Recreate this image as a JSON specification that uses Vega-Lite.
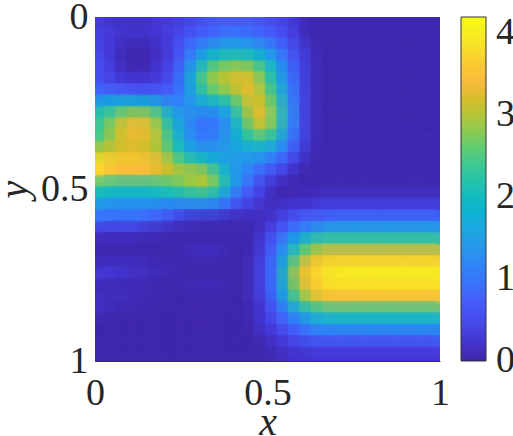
{"$schema":"https://vega.github.io/schema/vega-lite/v6.json","width":345,"height":344,"padding":{"left":95,"top":17,"right":73,"bottom":75},"autosize":"none","background":"white","config":{"view":{"stroke":null},"font":"Liberation Serif"},
"data":{"values":[
{"x":0.017,"y":0.017,"v":0.3},{"x":0.05,"y":0.017,"v":0.2},{"x":0.083,"y":0.017,"v":0.2},{"x":0.117,"y":0.017,"v":0.2},{"x":0.15,"y":0.017,"v":0.2},{"x":0.183,"y":0.017,"v":0.3},{"x":0.217,"y":0.017,"v":0.3},{"x":0.25,"y":0.017,"v":0.4},{"x":0.283,"y":0.017,"v":0.5},{"x":0.317,"y":0.017,"v":0.6},{"x":0.35,"y":0.017,"v":0.7},{"x":0.383,"y":0.017,"v":0.7},{"x":0.417,"y":0.017,"v":0.7},{"x":0.45,"y":0.017,"v":0.7},{"x":0.483,"y":0.017,"v":0.6},{"x":0.517,"y":0.017,"v":0.5},{"x":0.55,"y":0.017,"v":0.4},{"x":0.583,"y":0.017,"v":0.2},{"x":0.617,"y":0.017,"v":0.04},{"x":0.65,"y":0.017,"v":0.04},{"x":0.683,"y":0.017,"v":0.04},{"x":0.717,"y":0.017,"v":0.04},{"x":0.75,"y":0.017,"v":0.04},{"x":0.783,"y":0.017,"v":0.04},{"x":0.817,"y":0.017,"v":0.04},{"x":0.85,"y":0.017,"v":0.04},{"x":0.883,"y":0.017,"v":0.04},{"x":0.917,"y":0.017,"v":0.04},{"x":0.95,"y":0.017,"v":0.04},{"x":0.983,"y":0.017,"v":0.04},
{"x":0.017,"y":0.05,"v":0.4},{"x":0.05,"y":0.05,"v":0.3},{"x":0.083,"y":0.05,"v":0.2},{"x":0.117,"y":0.05,"v":0.2},{"x":0.15,"y":0.05,"v":0.2},{"x":0.183,"y":0.05,"v":0.3},{"x":0.217,"y":0.05,"v":0.4},{"x":0.25,"y":0.05,"v":0.5},{"x":0.283,"y":0.05,"v":0.7},{"x":0.317,"y":0.05,"v":0.8},{"x":0.35,"y":0.05,"v":0.9},{"x":0.383,"y":0.05,"v":1},{"x":0.417,"y":0.05,"v":1},{"x":0.45,"y":0.05,"v":0.9},{"x":0.483,"y":0.05,"v":0.8},{"x":0.517,"y":0.05,"v":0.7},{"x":0.55,"y":0.05,"v":0.5},{"x":0.583,"y":0.05,"v":0.3},{"x":0.617,"y":0.05,"v":0.04},{"x":0.65,"y":0.05,"v":0.04},{"x":0.683,"y":0.05,"v":0.04},{"x":0.717,"y":0.05,"v":0.04},{"x":0.75,"y":0.05,"v":0.04},{"x":0.783,"y":0.05,"v":0.04},{"x":0.817,"y":0.05,"v":0.04},{"x":0.85,"y":0.05,"v":0.04},{"x":0.883,"y":0.05,"v":0.04},{"x":0.917,"y":0.05,"v":0.04},{"x":0.95,"y":0.05,"v":0.04},{"x":0.983,"y":0.05,"v":0.04},
{"x":0.017,"y":0.083,"v":0.4},{"x":0.05,"y":0.083,"v":0.2},{"x":0.083,"y":0.083,"v":0.1},{"x":0.117,"y":0.083,"v":0.05},{"x":0.15,"y":0.083,"v":0.1},{"x":0.183,"y":0.083,"v":0.2},{"x":0.217,"y":0.083,"v":0.4},{"x":0.25,"y":0.083,"v":0.7},{"x":0.283,"y":0.083,"v":1},{"x":0.317,"y":0.083,"v":1.3},{"x":0.35,"y":0.083,"v":1.5},{"x":0.383,"y":0.083,"v":1.6},{"x":0.417,"y":0.083,"v":1.6},{"x":0.45,"y":0.083,"v":1.5},{"x":0.483,"y":0.083,"v":1.3},{"x":0.517,"y":0.083,"v":1},{"x":0.55,"y":0.083,"v":0.7},{"x":0.583,"y":0.083,"v":0.4},{"x":0.617,"y":0.083,"v":0.15},{"x":0.65,"y":0.083,"v":0.04},{"x":0.683,"y":0.083,"v":0.04},{"x":0.717,"y":0.083,"v":0.04},{"x":0.75,"y":0.083,"v":0.04},{"x":0.783,"y":0.083,"v":0.04},{"x":0.817,"y":0.083,"v":0.04},{"x":0.85,"y":0.083,"v":0.04},{"x":0.883,"y":0.083,"v":0.04},{"x":0.917,"y":0.083,"v":0.04},{"x":0.95,"y":0.083,"v":0.04},{"x":0.983,"y":0.083,"v":0.04},
{"x":0.017,"y":0.117,"v":0.5},{"x":0.05,"y":0.117,"v":0.2},{"x":0.083,"y":0.117,"v":0.05},{"x":0.117,"y":0.117,"v":0},{"x":0.15,"y":0.117,"v":0.05},{"x":0.183,"y":0.117,"v":0.2},{"x":0.217,"y":0.117,"v":0.4},{"x":0.25,"y":0.117,"v":0.8},{"x":0.283,"y":0.117,"v":1.3},{"x":0.317,"y":0.117,"v":1.8},{"x":0.35,"y":0.117,"v":2.1},{"x":0.383,"y":0.117,"v":2.2},{"x":0.417,"y":0.117,"v":2.2},{"x":0.45,"y":0.117,"v":2.1},{"x":0.483,"y":0.117,"v":1.8},{"x":0.517,"y":0.117,"v":1.4},{"x":0.55,"y":0.117,"v":0.9},{"x":0.583,"y":0.117,"v":0.5},{"x":0.617,"y":0.117,"v":0.2},{"x":0.65,"y":0.117,"v":0.04},{"x":0.683,"y":0.117,"v":0.04},{"x":0.717,"y":0.117,"v":0.04},{"x":0.75,"y":0.117,"v":0.04},{"x":0.783,"y":0.117,"v":0.04},{"x":0.817,"y":0.117,"v":0.04},{"x":0.85,"y":0.117,"v":0.04},{"x":0.883,"y":0.117,"v":0.04},{"x":0.917,"y":0.117,"v":0.04},{"x":0.95,"y":0.117,"v":0.04},{"x":0.983,"y":0.117,"v":0.04},
{"x":0.017,"y":0.15,"v":0.5},{"x":0.05,"y":0.15,"v":0.3},{"x":0.083,"y":0.15,"v":0.1},{"x":0.117,"y":0.15,"v":0.05},{"x":0.15,"y":0.15,"v":0.1},{"x":0.183,"y":0.15,"v":0.3},{"x":0.217,"y":0.15,"v":0.5},{"x":0.25,"y":0.15,"v":1},{"x":0.283,"y":0.15,"v":1.7},{"x":0.317,"y":0.15,"v":2.4},{"x":0.35,"y":0.15,"v":2.8},{"x":0.383,"y":0.15,"v":2.9},{"x":0.417,"y":0.15,"v":3},{"x":0.45,"y":0.15,"v":2.9},{"x":0.483,"y":0.15,"v":2.4},{"x":0.517,"y":0.15,"v":1.8},{"x":0.55,"y":0.15,"v":1.1},{"x":0.583,"y":0.15,"v":0.6},{"x":0.617,"y":0.15,"v":0.2},{"x":0.65,"y":0.15,"v":0.04},{"x":0.683,"y":0.15,"v":0.04},{"x":0.717,"y":0.15,"v":0.04},{"x":0.75,"y":0.15,"v":0.04},{"x":0.783,"y":0.15,"v":0.04},{"x":0.817,"y":0.15,"v":0.04},{"x":0.85,"y":0.15,"v":0.04},{"x":0.883,"y":0.15,"v":0.04},{"x":0.917,"y":0.15,"v":0.04},{"x":0.95,"y":0.15,"v":0.04},{"x":0.983,"y":0.15,"v":0.04},
{"x":0.017,"y":0.183,"v":0.6},{"x":0.05,"y":0.183,"v":0.4},{"x":0.083,"y":0.183,"v":0.3},{"x":0.117,"y":0.183,"v":0.3},{"x":0.15,"y":0.183,"v":0.3},{"x":0.183,"y":0.183,"v":0.4},{"x":0.217,"y":0.183,"v":0.6},{"x":0.25,"y":0.183,"v":1.1},{"x":0.283,"y":0.183,"v":2},{"x":0.317,"y":0.183,"v":2.7},{"x":0.35,"y":0.183,"v":3},{"x":0.383,"y":0.183,"v":3.1},{"x":0.417,"y":0.183,"v":3.3},{"x":0.45,"y":0.183,"v":3.2},{"x":0.483,"y":0.183,"v":2.7},{"x":0.517,"y":0.183,"v":2},{"x":0.55,"y":0.183,"v":1.2},{"x":0.583,"y":0.183,"v":0.7},{"x":0.617,"y":0.183,"v":0.2},{"x":0.65,"y":0.183,"v":0.04},{"x":0.683,"y":0.183,"v":0.04},{"x":0.717,"y":0.183,"v":0.04},{"x":0.75,"y":0.183,"v":0.04},{"x":0.783,"y":0.183,"v":0.04},{"x":0.817,"y":0.183,"v":0.04},{"x":0.85,"y":0.183,"v":0.04},{"x":0.883,"y":0.183,"v":0.04},{"x":0.917,"y":0.183,"v":0.04},{"x":0.95,"y":0.183,"v":0.04},{"x":0.983,"y":0.183,"v":0.04},
{"x":0.017,"y":0.217,"v":0.9},{"x":0.05,"y":0.217,"v":0.8},{"x":0.083,"y":0.217,"v":0.8},{"x":0.117,"y":0.217,"v":0.7},{"x":0.15,"y":0.217,"v":0.7},{"x":0.183,"y":0.217,"v":0.7},{"x":0.217,"y":0.217,"v":0.8},{"x":0.25,"y":0.217,"v":1.1},{"x":0.283,"y":0.217,"v":1.7},{"x":0.317,"y":0.217,"v":2.3},{"x":0.35,"y":0.217,"v":2.6},{"x":0.383,"y":0.217,"v":2.8},{"x":0.417,"y":0.217,"v":3.1},{"x":0.45,"y":0.217,"v":3.3},{"x":0.483,"y":0.217,"v":2.9},{"x":0.517,"y":0.217,"v":2.2},{"x":0.55,"y":0.217,"v":1.4},{"x":0.583,"y":0.217,"v":0.7},{"x":0.617,"y":0.217,"v":0.2},{"x":0.65,"y":0.217,"v":0.04},{"x":0.683,"y":0.217,"v":0.04},{"x":0.717,"y":0.217,"v":0.04},{"x":0.75,"y":0.217,"v":0.04},{"x":0.783,"y":0.217,"v":0.04},{"x":0.817,"y":0.217,"v":0.04},{"x":0.85,"y":0.217,"v":0.04},{"x":0.883,"y":0.217,"v":0.04},{"x":0.917,"y":0.217,"v":0.04},{"x":0.95,"y":0.217,"v":0.04},{"x":0.983,"y":0.217,"v":0.04},
{"x":0.017,"y":0.25,"v":1.7},{"x":0.05,"y":0.25,"v":1.8},{"x":0.083,"y":0.25,"v":1.9},{"x":0.117,"y":0.25,"v":1.9},{"x":0.15,"y":0.25,"v":1.8},{"x":0.183,"y":0.25,"v":1.6},{"x":0.217,"y":0.25,"v":1.2},{"x":0.25,"y":0.25,"v":1.2},{"x":0.283,"y":0.25,"v":1.5},{"x":0.317,"y":0.25,"v":1.7},{"x":0.35,"y":0.25,"v":1.8},{"x":0.383,"y":0.25,"v":2.1},{"x":0.417,"y":0.25,"v":2.7},{"x":0.45,"y":0.25,"v":3.2},{"x":0.483,"y":0.25,"v":3.1},{"x":0.517,"y":0.25,"v":2.5},{"x":0.55,"y":0.25,"v":1.5},{"x":0.583,"y":0.25,"v":0.8},{"x":0.617,"y":0.25,"v":0.2},{"x":0.65,"y":0.25,"v":0.04},{"x":0.683,"y":0.25,"v":0.04},{"x":0.717,"y":0.25,"v":0.04},{"x":0.75,"y":0.25,"v":0.04},{"x":0.783,"y":0.25,"v":0.04},{"x":0.817,"y":0.25,"v":0.04},{"x":0.85,"y":0.25,"v":0.04},{"x":0.883,"y":0.25,"v":0.04},{"x":0.917,"y":0.25,"v":0.04},{"x":0.95,"y":0.25,"v":0.04},{"x":0.983,"y":0.25,"v":0.04},
{"x":0.017,"y":0.283,"v":2.3},{"x":0.05,"y":0.283,"v":2.6},{"x":0.083,"y":0.283,"v":2.9},{"x":0.117,"y":0.283,"v":3},{"x":0.15,"y":0.283,"v":2.9},{"x":0.183,"y":0.283,"v":2.5},{"x":0.217,"y":0.283,"v":1.7},{"x":0.25,"y":0.283,"v":1.4},{"x":0.283,"y":0.283,"v":1.2},{"x":0.317,"y":0.283,"v":1.1},{"x":0.35,"y":0.283,"v":1.2},{"x":0.383,"y":0.283,"v":1.6},{"x":0.417,"y":0.283,"v":2.4},{"x":0.45,"y":0.283,"v":3.1},{"x":0.483,"y":0.283,"v":3.3},{"x":0.517,"y":0.283,"v":2.6},{"x":0.55,"y":0.283,"v":1.6},{"x":0.583,"y":0.283,"v":0.8},{"x":0.617,"y":0.283,"v":0.2},{"x":0.65,"y":0.283,"v":0.04},{"x":0.683,"y":0.283,"v":0.04},{"x":0.717,"y":0.283,"v":0.04},{"x":0.75,"y":0.283,"v":0.04},{"x":0.783,"y":0.283,"v":0.04},{"x":0.817,"y":0.283,"v":0.04},{"x":0.85,"y":0.283,"v":0.04},{"x":0.883,"y":0.283,"v":0.04},{"x":0.917,"y":0.283,"v":0.04},{"x":0.95,"y":0.283,"v":0.04},{"x":0.983,"y":0.283,"v":0.04},
{"x":0.017,"y":0.317,"v":2.4},{"x":0.05,"y":0.317,"v":3},{"x":0.083,"y":0.317,"v":3.3},{"x":0.117,"y":0.317,"v":3.4},{"x":0.15,"y":0.317,"v":3.3},{"x":0.183,"y":0.317,"v":2.8},{"x":0.217,"y":0.317,"v":2},{"x":0.25,"y":0.317,"v":1.5},{"x":0.283,"y":0.317,"v":1},{"x":0.317,"y":0.317,"v":0.9},{"x":0.35,"y":0.317,"v":1},{"x":0.383,"y":0.317,"v":1.4},{"x":0.417,"y":0.317,"v":2.1},{"x":0.45,"y":0.317,"v":2.8},{"x":0.483,"y":0.317,"v":3.1},{"x":0.517,"y":0.317,"v":2.5},{"x":0.55,"y":0.317,"v":1.5},{"x":0.583,"y":0.317,"v":0.8},{"x":0.617,"y":0.317,"v":0.2},{"x":0.65,"y":0.317,"v":0.04},{"x":0.683,"y":0.317,"v":0.04},{"x":0.717,"y":0.317,"v":0.04},{"x":0.75,"y":0.317,"v":0.04},{"x":0.783,"y":0.317,"v":0.04},{"x":0.817,"y":0.317,"v":0.04},{"x":0.85,"y":0.317,"v":0.04},{"x":0.883,"y":0.317,"v":0.04},{"x":0.917,"y":0.317,"v":0.04},{"x":0.95,"y":0.317,"v":0.04},{"x":0.983,"y":0.317,"v":0.04},
{"x":0.017,"y":0.35,"v":2.5},{"x":0.05,"y":0.35,"v":3},{"x":0.083,"y":0.35,"v":3.2},{"x":0.117,"y":0.35,"v":3.3},{"x":0.15,"y":0.35,"v":3.2},{"x":0.183,"y":0.35,"v":2.9},{"x":0.217,"y":0.35,"v":2.2},{"x":0.25,"y":0.35,"v":1.6},{"x":0.283,"y":0.35,"v":1.2},{"x":0.317,"y":0.35,"v":1},{"x":0.35,"y":0.35,"v":1.2},{"x":0.383,"y":0.35,"v":1.5},{"x":0.417,"y":0.35,"v":1.9},{"x":0.45,"y":0.35,"v":2.3},{"x":0.483,"y":0.35,"v":2.4},{"x":0.517,"y":0.35,"v":2},{"x":0.55,"y":0.35,"v":1.3},{"x":0.583,"y":0.35,"v":0.7},{"x":0.617,"y":0.35,"v":0.2},{"x":0.65,"y":0.35,"v":0.04},{"x":0.683,"y":0.35,"v":0.04},{"x":0.717,"y":0.35,"v":0.04},{"x":0.75,"y":0.35,"v":0.04},{"x":0.783,"y":0.35,"v":0.04},{"x":0.817,"y":0.35,"v":0.04},{"x":0.85,"y":0.35,"v":0.04},{"x":0.883,"y":0.35,"v":0.04},{"x":0.917,"y":0.35,"v":0.04},{"x":0.95,"y":0.35,"v":0.04},{"x":0.983,"y":0.35,"v":0.04},
{"x":0.017,"y":0.383,"v":3},{"x":0.05,"y":0.383,"v":3.1},{"x":0.083,"y":0.383,"v":3.2},{"x":0.117,"y":0.383,"v":3.2},{"x":0.15,"y":0.383,"v":3.1},{"x":0.183,"y":0.383,"v":2.9},{"x":0.217,"y":0.383,"v":2.4},{"x":0.25,"y":0.383,"v":1.9},{"x":0.283,"y":0.383,"v":1.5},{"x":0.317,"y":0.383,"v":1.4},{"x":0.35,"y":0.383,"v":1.4},{"x":0.383,"y":0.383,"v":1.5},{"x":0.417,"y":0.383,"v":1.6},{"x":0.45,"y":0.383,"v":1.7},{"x":0.483,"y":0.383,"v":1.7},{"x":0.517,"y":0.383,"v":1.4},{"x":0.55,"y":0.383,"v":1},{"x":0.583,"y":0.383,"v":0.5},{"x":0.617,"y":0.383,"v":0.15},{"x":0.65,"y":0.383,"v":0.04},{"x":0.683,"y":0.383,"v":0.04},{"x":0.717,"y":0.383,"v":0.04},{"x":0.75,"y":0.383,"v":0.04},{"x":0.783,"y":0.383,"v":0.04},{"x":0.817,"y":0.383,"v":0.04},{"x":0.85,"y":0.383,"v":0.04},{"x":0.883,"y":0.383,"v":0.04},{"x":0.917,"y":0.383,"v":0.04},{"x":0.95,"y":0.383,"v":0.04},{"x":0.983,"y":0.383,"v":0.04},
{"x":0.017,"y":0.417,"v":3.8},{"x":0.05,"y":0.417,"v":3.6},{"x":0.083,"y":0.417,"v":3.6},{"x":0.117,"y":0.417,"v":3.6},{"x":0.15,"y":0.417,"v":3.5},{"x":0.183,"y":0.417,"v":3.3},{"x":0.217,"y":0.417,"v":2.9},{"x":0.25,"y":0.417,"v":2.4},{"x":0.283,"y":0.417,"v":2.2},{"x":0.317,"y":0.417,"v":2},{"x":0.35,"y":0.417,"v":1.7},{"x":0.383,"y":0.417,"v":1.5},{"x":0.417,"y":0.417,"v":1.4},{"x":0.45,"y":0.417,"v":1.3},{"x":0.483,"y":0.417,"v":1.2},{"x":0.517,"y":0.417,"v":0.9},{"x":0.55,"y":0.417,"v":0.6},{"x":0.583,"y":0.417,"v":0.3},{"x":0.617,"y":0.417,"v":0.08},{"x":0.65,"y":0.417,"v":0.04},{"x":0.683,"y":0.417,"v":0.04},{"x":0.717,"y":0.417,"v":0.04},{"x":0.75,"y":0.417,"v":0.04},{"x":0.783,"y":0.417,"v":0.04},{"x":0.817,"y":0.417,"v":0.04},{"x":0.85,"y":0.417,"v":0.04},{"x":0.883,"y":0.417,"v":0.04},{"x":0.917,"y":0.417,"v":0.04},{"x":0.95,"y":0.417,"v":0.04},{"x":0.983,"y":0.417,"v":0.04},
{"x":0.017,"y":0.45,"v":3.7},{"x":0.05,"y":0.45,"v":3.4},{"x":0.083,"y":0.45,"v":3.4},{"x":0.117,"y":0.45,"v":3.4},{"x":0.15,"y":0.45,"v":3.4},{"x":0.183,"y":0.45,"v":3.2},{"x":0.217,"y":0.45,"v":3.1},{"x":0.25,"y":0.45,"v":3},{"x":0.283,"y":0.45,"v":3},{"x":0.317,"y":0.45,"v":2.9},{"x":0.35,"y":0.45,"v":2.3},{"x":0.383,"y":0.45,"v":1.7},{"x":0.417,"y":0.45,"v":1.3},{"x":0.45,"y":0.45,"v":1},{"x":0.483,"y":0.45,"v":0.7},{"x":0.517,"y":0.45,"v":0.5},{"x":0.55,"y":0.45,"v":0.3},{"x":0.583,"y":0.45,"v":0.08},{"x":0.617,"y":0.45,"v":0.04},{"x":0.65,"y":0.45,"v":0.04},{"x":0.683,"y":0.45,"v":0.04},{"x":0.717,"y":0.45,"v":0.04},{"x":0.75,"y":0.45,"v":0.04},{"x":0.783,"y":0.45,"v":0.04},{"x":0.817,"y":0.45,"v":0.04},{"x":0.85,"y":0.45,"v":0.04},{"x":0.883,"y":0.45,"v":0.04},{"x":0.917,"y":0.45,"v":0.04},{"x":0.95,"y":0.45,"v":0.04},{"x":0.983,"y":0.45,"v":0.04},
{"x":0.017,"y":0.483,"v":2.4},{"x":0.05,"y":0.483,"v":2.3},{"x":0.083,"y":0.483,"v":2.3},{"x":0.117,"y":0.483,"v":2.3},{"x":0.15,"y":0.483,"v":2.3},{"x":0.183,"y":0.483,"v":2.4},{"x":0.217,"y":0.483,"v":2.5},{"x":0.25,"y":0.483,"v":2.7},{"x":0.283,"y":0.483,"v":2.9},{"x":0.317,"y":0.483,"v":3},{"x":0.35,"y":0.483,"v":2.6},{"x":0.383,"y":0.483,"v":1.8},{"x":0.417,"y":0.483,"v":1.2},{"x":0.45,"y":0.483,"v":0.8},{"x":0.483,"y":0.483,"v":0.4},{"x":0.517,"y":0.483,"v":0.15},{"x":0.55,"y":0.483,"v":0.05},{"x":0.583,"y":0.483,"v":0.05},{"x":0.617,"y":0.483,"v":0.05},{"x":0.65,"y":0.483,"v":0.05},{"x":0.683,"y":0.483,"v":0.06},{"x":0.717,"y":0.483,"v":0.06},{"x":0.75,"y":0.483,"v":0.06},{"x":0.783,"y":0.483,"v":0.06},{"x":0.817,"y":0.483,"v":0.06},{"x":0.85,"y":0.483,"v":0.06},{"x":0.883,"y":0.483,"v":0.06},{"x":0.917,"y":0.483,"v":0.06},{"x":0.95,"y":0.483,"v":0.06},{"x":0.983,"y":0.483,"v":0.06},
{"x":0.017,"y":0.517,"v":1.9},{"x":0.05,"y":0.517,"v":1.8},{"x":0.083,"y":0.517,"v":1.8},{"x":0.117,"y":0.517,"v":1.8},{"x":0.15,"y":0.517,"v":1.8},{"x":0.183,"y":0.517,"v":1.9},{"x":0.217,"y":0.517,"v":1.9},{"x":0.25,"y":0.517,"v":2},{"x":0.283,"y":0.517,"v":2.1},{"x":0.317,"y":0.517,"v":2.1},{"x":0.35,"y":0.517,"v":1.8},{"x":0.383,"y":0.517,"v":1.3},{"x":0.417,"y":0.517,"v":0.8},{"x":0.45,"y":0.517,"v":0.5},{"x":0.483,"y":0.517,"v":0.3},{"x":0.517,"y":0.517,"v":0.05},{"x":0.55,"y":0.517,"v":0.05},{"x":0.583,"y":0.517,"v":0.1},{"x":0.617,"y":0.517,"v":0.1},{"x":0.65,"y":0.517,"v":0.15},{"x":0.683,"y":0.517,"v":0.15},{"x":0.717,"y":0.517,"v":0.15},{"x":0.75,"y":0.517,"v":0.15},{"x":0.783,"y":0.517,"v":0.15},{"x":0.817,"y":0.517,"v":0.15},{"x":0.85,"y":0.517,"v":0.15},{"x":0.883,"y":0.517,"v":0.15},{"x":0.917,"y":0.517,"v":0.15},{"x":0.95,"y":0.517,"v":0.15},{"x":0.983,"y":0.517,"v":0.15},
{"x":0.017,"y":0.55,"v":1.3},{"x":0.05,"y":0.55,"v":1.2},{"x":0.083,"y":0.55,"v":1.2},{"x":0.117,"y":0.55,"v":1.2},{"x":0.15,"y":0.55,"v":1.2},{"x":0.183,"y":0.55,"v":1.1},{"x":0.217,"y":0.55,"v":1},{"x":0.25,"y":0.55,"v":1},{"x":0.283,"y":0.55,"v":1},{"x":0.317,"y":0.55,"v":1},{"x":0.35,"y":0.55,"v":0.9},{"x":0.383,"y":0.55,"v":0.7},{"x":0.417,"y":0.55,"v":0.4},{"x":0.45,"y":0.55,"v":0.3},{"x":0.483,"y":0.55,"v":0.15},{"x":0.517,"y":0.55,"v":0.15},{"x":0.55,"y":0.55,"v":0.25},{"x":0.583,"y":0.55,"v":0.3},{"x":0.617,"y":0.55,"v":0.3},{"x":0.65,"y":0.55,"v":0.4},{"x":0.683,"y":0.55,"v":0.4},{"x":0.717,"y":0.55,"v":0.4},{"x":0.75,"y":0.55,"v":0.4},{"x":0.783,"y":0.55,"v":0.4},{"x":0.817,"y":0.55,"v":0.4},{"x":0.85,"y":0.55,"v":0.4},{"x":0.883,"y":0.55,"v":0.4},{"x":0.917,"y":0.55,"v":0.4},{"x":0.95,"y":0.55,"v":0.4},{"x":0.983,"y":0.55,"v":0.4},
{"x":0.017,"y":0.583,"v":0.9},{"x":0.05,"y":0.583,"v":0.9},{"x":0.083,"y":0.583,"v":0.9},{"x":0.117,"y":0.583,"v":0.9},{"x":0.15,"y":0.583,"v":0.8},{"x":0.183,"y":0.583,"v":0.7},{"x":0.217,"y":0.583,"v":0.5},{"x":0.25,"y":0.583,"v":0.3},{"x":0.283,"y":0.583,"v":0.15},{"x":0.317,"y":0.583,"v":0.15},{"x":0.35,"y":0.583,"v":0.15},{"x":0.383,"y":0.583,"v":0.08},{"x":0.417,"y":0.583,"v":0.08},{"x":0.45,"y":0.583,"v":0.1},{"x":0.483,"y":0.583,"v":0.15},{"x":0.517,"y":0.583,"v":0.3},{"x":0.55,"y":0.583,"v":0.5},{"x":0.583,"y":0.583,"v":0.7},{"x":0.617,"y":0.583,"v":0.8},{"x":0.65,"y":0.583,"v":0.8},{"x":0.683,"y":0.583,"v":0.9},{"x":0.717,"y":0.583,"v":0.9},{"x":0.75,"y":0.583,"v":0.9},{"x":0.783,"y":0.583,"v":0.9},{"x":0.817,"y":0.583,"v":0.9},{"x":0.85,"y":0.583,"v":0.9},{"x":0.883,"y":0.583,"v":0.9},{"x":0.917,"y":0.583,"v":0.9},{"x":0.95,"y":0.583,"v":0.9},{"x":0.983,"y":0.583,"v":0.9},
{"x":0.017,"y":0.617,"v":0.3},{"x":0.05,"y":0.617,"v":0.3},{"x":0.083,"y":0.617,"v":0.3},{"x":0.117,"y":0.617,"v":0.3},{"x":0.15,"y":0.617,"v":0.15},{"x":0.183,"y":0.617,"v":0.15},{"x":0.217,"y":0.617,"v":0.06},{"x":0.25,"y":0.617,"v":0.06},{"x":0.283,"y":0.617,"v":0.06},{"x":0.317,"y":0.617,"v":0.06},{"x":0.35,"y":0.617,"v":0.06},{"x":0.383,"y":0.617,"v":0.06},{"x":0.417,"y":0.617,"v":0.06},{"x":0.45,"y":0.617,"v":0.06},{"x":0.483,"y":0.617,"v":0.2},{"x":0.517,"y":0.617,"v":0.5},{"x":0.55,"y":0.617,"v":0.8},{"x":0.583,"y":0.617,"v":1.1},{"x":0.617,"y":0.617,"v":1.3},{"x":0.65,"y":0.617,"v":1.5},{"x":0.683,"y":0.617,"v":1.6},{"x":0.717,"y":0.617,"v":1.6},{"x":0.75,"y":0.617,"v":1.6},{"x":0.783,"y":0.617,"v":1.6},{"x":0.817,"y":0.617,"v":1.6},{"x":0.85,"y":0.617,"v":1.6},{"x":0.883,"y":0.617,"v":1.6},{"x":0.917,"y":0.617,"v":1.6},{"x":0.95,"y":0.617,"v":1.6},{"x":0.983,"y":0.617,"v":1.6},
{"x":0.017,"y":0.65,"v":0.05},{"x":0.05,"y":0.65,"v":0.05},{"x":0.083,"y":0.65,"v":0.05},{"x":0.117,"y":0.65,"v":0.05},{"x":0.15,"y":0.65,"v":0.05},{"x":0.183,"y":0.65,"v":0.05},{"x":0.217,"y":0.65,"v":0.05},{"x":0.25,"y":0.65,"v":0.05},{"x":0.283,"y":0.65,"v":0.05},{"x":0.317,"y":0.65,"v":0.05},{"x":0.35,"y":0.65,"v":0.05},{"x":0.383,"y":0.65,"v":0.05},{"x":0.417,"y":0.65,"v":0.05},{"x":0.45,"y":0.65,"v":0.08},{"x":0.483,"y":0.65,"v":0.4},{"x":0.517,"y":0.65,"v":0.8},{"x":0.55,"y":0.65,"v":1.3},{"x":0.583,"y":0.65,"v":1.8},{"x":0.617,"y":0.65,"v":2.2},{"x":0.65,"y":0.65,"v":2.4},{"x":0.683,"y":0.65,"v":2.4},{"x":0.717,"y":0.65,"v":2.4},{"x":0.75,"y":0.65,"v":2.4},{"x":0.783,"y":0.65,"v":2.4},{"x":0.817,"y":0.65,"v":2.4},{"x":0.85,"y":0.65,"v":2.4},{"x":0.883,"y":0.65,"v":2.4},{"x":0.917,"y":0.65,"v":2.4},{"x":0.95,"y":0.65,"v":2.4},{"x":0.983,"y":0.65,"v":2.4},
{"x":0.017,"y":0.683,"v":0.05},{"x":0.05,"y":0.683,"v":0.05},{"x":0.083,"y":0.683,"v":0.05},{"x":0.117,"y":0.683,"v":0.05},{"x":0.15,"y":0.683,"v":0.05},{"x":0.183,"y":0.683,"v":0.02},{"x":0.217,"y":0.683,"v":0.02},{"x":0.25,"y":0.683,"v":0.05},{"x":0.283,"y":0.683,"v":0.15},{"x":0.317,"y":0.683,"v":0.15},{"x":0.35,"y":0.683,"v":0.15},{"x":0.383,"y":0.683,"v":0.05},{"x":0.417,"y":0.683,"v":0.02},{"x":0.45,"y":0.683,"v":0.08},{"x":0.483,"y":0.683,"v":0.4},{"x":0.517,"y":0.683,"v":0.9},{"x":0.55,"y":0.683,"v":1.6},{"x":0.583,"y":0.683,"v":2.4},{"x":0.617,"y":0.683,"v":2.9},{"x":0.65,"y":0.683,"v":3.2},{"x":0.683,"y":0.683,"v":3.3},{"x":0.717,"y":0.683,"v":3.3},{"x":0.75,"y":0.683,"v":3.3},{"x":0.783,"y":0.683,"v":3.3},{"x":0.817,"y":0.683,"v":3.3},{"x":0.85,"y":0.683,"v":3.3},{"x":0.883,"y":0.683,"v":3.3},{"x":0.917,"y":0.683,"v":3.3},{"x":0.95,"y":0.683,"v":3.3},{"x":0.983,"y":0.683,"v":3.3},
{"x":0.017,"y":0.717,"v":0.15},{"x":0.05,"y":0.717,"v":0.15},{"x":0.083,"y":0.717,"v":0.15},{"x":0.117,"y":0.717,"v":0.15},{"x":0.15,"y":0.717,"v":0.08},{"x":0.183,"y":0.717,"v":0.08},{"x":0.217,"y":0.717,"v":0.08},{"x":0.25,"y":0.717,"v":0.02},{"x":0.283,"y":0.717,"v":0.02},{"x":0.317,"y":0.717,"v":0.02},{"x":0.35,"y":0.717,"v":0.02},{"x":0.383,"y":0.717,"v":0.02},{"x":0.417,"y":0.717,"v":0.02},{"x":0.45,"y":0.717,"v":0.15},{"x":0.483,"y":0.717,"v":0.5},{"x":0.517,"y":0.717,"v":1},{"x":0.55,"y":0.717,"v":2},{"x":0.583,"y":0.717,"v":2.9},{"x":0.617,"y":0.717,"v":3.4},{"x":0.65,"y":0.717,"v":3.7},{"x":0.683,"y":0.717,"v":3.8},{"x":0.717,"y":0.717,"v":3.8},{"x":0.75,"y":0.717,"v":3.8},{"x":0.783,"y":0.717,"v":3.8},{"x":0.817,"y":0.717,"v":3.8},{"x":0.85,"y":0.717,"v":3.8},{"x":0.883,"y":0.717,"v":3.8},{"x":0.917,"y":0.717,"v":3.8},{"x":0.95,"y":0.717,"v":3.8},{"x":0.983,"y":0.717,"v":3.8},
{"x":0.017,"y":0.75,"v":0.3},{"x":0.05,"y":0.75,"v":0.3},{"x":0.083,"y":0.75,"v":0.2},{"x":0.117,"y":0.75,"v":0.15},{"x":0.15,"y":0.75,"v":0.15},{"x":0.183,"y":0.75,"v":0.08},{"x":0.217,"y":0.75,"v":0.08},{"x":0.25,"y":0.75,"v":0.02},{"x":0.283,"y":0.75,"v":0.02},{"x":0.317,"y":0.75,"v":0.02},{"x":0.35,"y":0.75,"v":0.02},{"x":0.383,"y":0.75,"v":0.02},{"x":0.417,"y":0.75,"v":0.02},{"x":0.45,"y":0.75,"v":0.15},{"x":0.483,"y":0.75,"v":0.5},{"x":0.517,"y":0.75,"v":1},{"x":0.55,"y":0.75,"v":2.2},{"x":0.583,"y":0.75,"v":3.2},{"x":0.617,"y":0.75,"v":3.6},{"x":0.65,"y":0.75,"v":3.85},{"x":0.683,"y":0.75,"v":3.95},{"x":0.717,"y":0.75,"v":4},{"x":0.75,"y":0.75,"v":4},{"x":0.783,"y":0.75,"v":4},{"x":0.817,"y":0.75,"v":4},{"x":0.85,"y":0.75,"v":4},{"x":0.883,"y":0.75,"v":4},{"x":0.917,"y":0.75,"v":4},{"x":0.95,"y":0.75,"v":4},{"x":0.983,"y":0.75,"v":4},
{"x":0.017,"y":0.783,"v":0.05},{"x":0.05,"y":0.783,"v":0.05},{"x":0.083,"y":0.783,"v":0.05},{"x":0.117,"y":0.783,"v":0.05},{"x":0.15,"y":0.783,"v":0.05},{"x":0.183,"y":0.783,"v":0.02},{"x":0.217,"y":0.783,"v":0.02},{"x":0.25,"y":0.783,"v":0.05},{"x":0.283,"y":0.783,"v":0.1},{"x":0.317,"y":0.783,"v":0.1},{"x":0.35,"y":0.783,"v":0.1},{"x":0.383,"y":0.783,"v":0.05},{"x":0.417,"y":0.783,"v":0.02},{"x":0.45,"y":0.783,"v":0.15},{"x":0.483,"y":0.783,"v":0.5},{"x":0.517,"y":0.783,"v":1},{"x":0.55,"y":0.783,"v":2},{"x":0.583,"y":0.783,"v":2.9},{"x":0.617,"y":0.783,"v":3.4},{"x":0.65,"y":0.783,"v":3.7},{"x":0.683,"y":0.783,"v":3.8},{"x":0.717,"y":0.783,"v":3.8},{"x":0.75,"y":0.783,"v":3.8},{"x":0.783,"y":0.783,"v":3.8},{"x":0.817,"y":0.783,"v":3.8},{"x":0.85,"y":0.783,"v":3.8},{"x":0.883,"y":0.783,"v":3.8},{"x":0.917,"y":0.783,"v":3.8},{"x":0.95,"y":0.783,"v":3.8},{"x":0.983,"y":0.783,"v":3.8},
{"x":0.017,"y":0.817,"v":0.15},{"x":0.05,"y":0.817,"v":0.15},{"x":0.083,"y":0.817,"v":0.15},{"x":0.117,"y":0.817,"v":0.08},{"x":0.15,"y":0.817,"v":0.08},{"x":0.183,"y":0.817,"v":0.08},{"x":0.217,"y":0.817,"v":0.02},{"x":0.25,"y":0.817,"v":0.02},{"x":0.283,"y":0.817,"v":0.02},{"x":0.317,"y":0.817,"v":0.02},{"x":0.35,"y":0.817,"v":0.02},{"x":0.383,"y":0.817,"v":0.02},{"x":0.417,"y":0.817,"v":0.02},{"x":0.45,"y":0.817,"v":0.15},{"x":0.483,"y":0.817,"v":0.4},{"x":0.517,"y":0.817,"v":0.9},{"x":0.55,"y":0.817,"v":1.7},{"x":0.583,"y":0.817,"v":2.5},{"x":0.617,"y":0.817,"v":3},{"x":0.65,"y":0.817,"v":3.3},{"x":0.683,"y":0.817,"v":3.4},{"x":0.717,"y":0.817,"v":3.4},{"x":0.75,"y":0.817,"v":3.4},{"x":0.783,"y":0.817,"v":3.4},{"x":0.817,"y":0.817,"v":3.4},{"x":0.85,"y":0.817,"v":3.4},{"x":0.883,"y":0.817,"v":3.4},{"x":0.917,"y":0.817,"v":3.4},{"x":0.95,"y":0.817,"v":3.4},{"x":0.983,"y":0.817,"v":3.4},
{"x":0.017,"y":0.85,"v":0.15},{"x":0.05,"y":0.85,"v":0.05},{"x":0.083,"y":0.85,"v":0.05},{"x":0.117,"y":0.85,"v":0.05},{"x":0.15,"y":0.85,"v":0.02},{"x":0.183,"y":0.85,"v":0.02},{"x":0.217,"y":0.85,"v":0.02},{"x":0.25,"y":0.85,"v":0.02},{"x":0.283,"y":0.85,"v":0.02},{"x":0.317,"y":0.85,"v":0.02},{"x":0.35,"y":0.85,"v":0.02},{"x":0.383,"y":0.85,"v":0.02},{"x":0.417,"y":0.85,"v":0.02},{"x":0.45,"y":0.85,"v":0.08},{"x":0.483,"y":0.85,"v":0.3},{"x":0.517,"y":0.85,"v":0.7},{"x":0.55,"y":0.85,"v":1.2},{"x":0.583,"y":0.85,"v":1.7},{"x":0.617,"y":0.85,"v":2.1},{"x":0.65,"y":0.85,"v":2.3},{"x":0.683,"y":0.85,"v":2.4},{"x":0.717,"y":0.85,"v":2.4},{"x":0.75,"y":0.85,"v":2.4},{"x":0.783,"y":0.85,"v":2.4},{"x":0.817,"y":0.85,"v":2.4},{"x":0.85,"y":0.85,"v":2.4},{"x":0.883,"y":0.85,"v":2.4},{"x":0.917,"y":0.85,"v":2.4},{"x":0.95,"y":0.85,"v":2.4},{"x":0.983,"y":0.85,"v":2.4},
{"x":0.017,"y":0.883,"v":0.02},{"x":0.05,"y":0.883,"v":0.02},{"x":0.083,"y":0.883,"v":0.02},{"x":0.117,"y":0.883,"v":0.02},{"x":0.15,"y":0.883,"v":0.02},{"x":0.183,"y":0.883,"v":0.02},{"x":0.217,"y":0.883,"v":0.02},{"x":0.25,"y":0.883,"v":0.02},{"x":0.283,"y":0.883,"v":0.02},{"x":0.317,"y":0.883,"v":0.02},{"x":0.35,"y":0.883,"v":0.02},{"x":0.383,"y":0.883,"v":0.02},{"x":0.417,"y":0.883,"v":0.02},{"x":0.45,"y":0.883,"v":0.08},{"x":0.483,"y":0.883,"v":0.3},{"x":0.517,"y":0.883,"v":0.5},{"x":0.55,"y":0.883,"v":0.8},{"x":0.583,"y":0.883,"v":1.1},{"x":0.617,"y":0.883,"v":1.4},{"x":0.65,"y":0.883,"v":1.6},{"x":0.683,"y":0.883,"v":1.7},{"x":0.717,"y":0.883,"v":1.7},{"x":0.75,"y":0.883,"v":1.7},{"x":0.783,"y":0.883,"v":1.7},{"x":0.817,"y":0.883,"v":1.7},{"x":0.85,"y":0.883,"v":1.7},{"x":0.883,"y":0.883,"v":1.7},{"x":0.917,"y":0.883,"v":1.7},{"x":0.95,"y":0.883,"v":1.7},{"x":0.983,"y":0.883,"v":1.7},
{"x":0.017,"y":0.917,"v":0.02},{"x":0.05,"y":0.917,"v":0.02},{"x":0.083,"y":0.917,"v":0.02},{"x":0.117,"y":0.917,"v":0.02},{"x":0.15,"y":0.917,"v":0.02},{"x":0.183,"y":0.917,"v":0.02},{"x":0.217,"y":0.917,"v":0.02},{"x":0.25,"y":0.917,"v":0.02},{"x":0.283,"y":0.917,"v":0.02},{"x":0.317,"y":0.917,"v":0.02},{"x":0.35,"y":0.917,"v":0.02},{"x":0.383,"y":0.917,"v":0.02},{"x":0.417,"y":0.917,"v":0.02},{"x":0.45,"y":0.917,"v":0.02},{"x":0.483,"y":0.917,"v":0.2},{"x":0.517,"y":0.917,"v":0.3},{"x":0.55,"y":0.917,"v":0.5},{"x":0.583,"y":0.917,"v":0.7},{"x":0.617,"y":0.917,"v":0.9},{"x":0.65,"y":0.917,"v":1},{"x":0.683,"y":0.917,"v":1},{"x":0.717,"y":0.917,"v":1},{"x":0.75,"y":0.917,"v":1},{"x":0.783,"y":0.917,"v":1},{"x":0.817,"y":0.917,"v":1},{"x":0.85,"y":0.917,"v":1},{"x":0.883,"y":0.917,"v":1},{"x":0.917,"y":0.917,"v":1},{"x":0.95,"y":0.917,"v":1},{"x":0.983,"y":0.917,"v":1},
{"x":0.017,"y":0.95,"v":0.02},{"x":0.05,"y":0.95,"v":0.02},{"x":0.083,"y":0.95,"v":0.02},{"x":0.117,"y":0.95,"v":0.02},{"x":0.15,"y":0.95,"v":0.02},{"x":0.183,"y":0.95,"v":0.02},{"x":0.217,"y":0.95,"v":0.02},{"x":0.25,"y":0.95,"v":0.02},{"x":0.283,"y":0.95,"v":0.02},{"x":0.317,"y":0.95,"v":0.02},{"x":0.35,"y":0.95,"v":0.02},{"x":0.383,"y":0.95,"v":0.02},{"x":0.417,"y":0.95,"v":0.02},{"x":0.45,"y":0.95,"v":0.02},{"x":0.483,"y":0.95,"v":0.06},{"x":0.517,"y":0.95,"v":0.15},{"x":0.55,"y":0.95,"v":0.3},{"x":0.583,"y":0.95,"v":0.4},{"x":0.617,"y":0.95,"v":0.45},{"x":0.65,"y":0.95,"v":0.5},{"x":0.683,"y":0.95,"v":0.5},{"x":0.717,"y":0.95,"v":0.5},{"x":0.75,"y":0.95,"v":0.5},{"x":0.783,"y":0.95,"v":0.5},{"x":0.817,"y":0.95,"v":0.5},{"x":0.85,"y":0.95,"v":0.5},{"x":0.883,"y":0.95,"v":0.5},{"x":0.917,"y":0.95,"v":0.5},{"x":0.95,"y":0.95,"v":0.5},{"x":0.983,"y":0.95,"v":0.5},
{"x":0.017,"y":0.983,"v":0.02},{"x":0.05,"y":0.983,"v":0.02},{"x":0.083,"y":0.983,"v":0.02},{"x":0.117,"y":0.983,"v":0.02},{"x":0.15,"y":0.983,"v":0.02},{"x":0.183,"y":0.983,"v":0.02},{"x":0.217,"y":0.983,"v":0.02},{"x":0.25,"y":0.983,"v":0.02},{"x":0.283,"y":0.983,"v":0.02},{"x":0.317,"y":0.983,"v":0.02},{"x":0.35,"y":0.983,"v":0.02},{"x":0.383,"y":0.983,"v":0.02},{"x":0.417,"y":0.983,"v":0.02},{"x":0.45,"y":0.983,"v":0.02},{"x":0.483,"y":0.983,"v":0.02},{"x":0.517,"y":0.983,"v":0.06},{"x":0.55,"y":0.983,"v":0.15},{"x":0.583,"y":0.983,"v":0.2},{"x":0.617,"y":0.983,"v":0.2},{"x":0.65,"y":0.983,"v":0.25},{"x":0.683,"y":0.983,"v":0.25},{"x":0.717,"y":0.983,"v":0.25},{"x":0.75,"y":0.983,"v":0.25},{"x":0.783,"y":0.983,"v":0.25},{"x":0.817,"y":0.983,"v":0.25},{"x":0.85,"y":0.983,"v":0.25},{"x":0.883,"y":0.983,"v":0.25},{"x":0.917,"y":0.983,"v":0.25},{"x":0.95,"y":0.983,"v":0.25},{"x":0.983,"y":0.983,"v":0.25}
]},
"encoding":{
"x":{"field":"x","type":"quantitative","scale":{"domain":[0,1],"nice":false},"axis":{"values":[0,0.5,1],"format":"~g","grid":false,"ticks":false,"domain":true,"domainColor":"#333","labelFontSize":38,"labelColor":"#262626","labelPadding":13,"labelFlush":false,"labelOverlap":false,"title":"x","titleFontSize":40,"titleFontStyle":"italic","titleFontWeight":"normal","titleColor":"#262626","titlePadding":-10}},
"y":{"field":"y","type":"quantitative","scale":{"domain":[0,1],"reverse":true,"nice":false},"axis":{"values":[0,0.5,1],"format":"~g","grid":false,"ticks":false,"domain":true,"domainColor":"#333","labelFontSize":38,"labelColor":"#262626","labelPadding":7,"labelFlush":false,"labelOverlap":false,"title":"y","titleFontSize":40,"titleFontStyle":"italic","titleFontWeight":"normal","titleColor":"#262626","titlePadding":6}},
"color":{"field":"v","type":"quantitative","scale":{"domain":[0,4.195],"nice":false,"zero":false,"interpolate":"rgb","range":["#3e26a8","#4537d5","#474df0","#4563fd","#327bfc","#2b91ef","#20a5e3","#08b5d0","#18bfb6","#37c897","#64cd6f","#9dc943","#d1bf27","#f8ba3d","#fccf30","#f5e924","#f9fb15"]},"legend":{"title":null,"orient":"right","offset":21,"gradientLength":344,"gradientThickness":25,"gradientStrokeColor":"#333","gradientStrokeWidth":1,"gradientOpacity":1,"values":[0,1,2,3,4],"labelFontSize":38,"labelColor":"#262626","labelOffset":10,"labelOverlap":false,"padding":0,"encode":{"labels":{"update":{"baseline":{"value":"middle"}}}}}}
},
"layer":[
{"mark":{"type":"rect","width":12.5,"height":12.5,"clip":true}},
{"mark":{"type":"rect","width":17,"height":17,"clip":true,"opacity":0.35,"xOffset":2,"yOffset":2}},
{"mark":{"type":"rect","width":23,"height":23,"clip":true,"opacity":0.35,"xOffset":3,"yOffset":3}}
]}
